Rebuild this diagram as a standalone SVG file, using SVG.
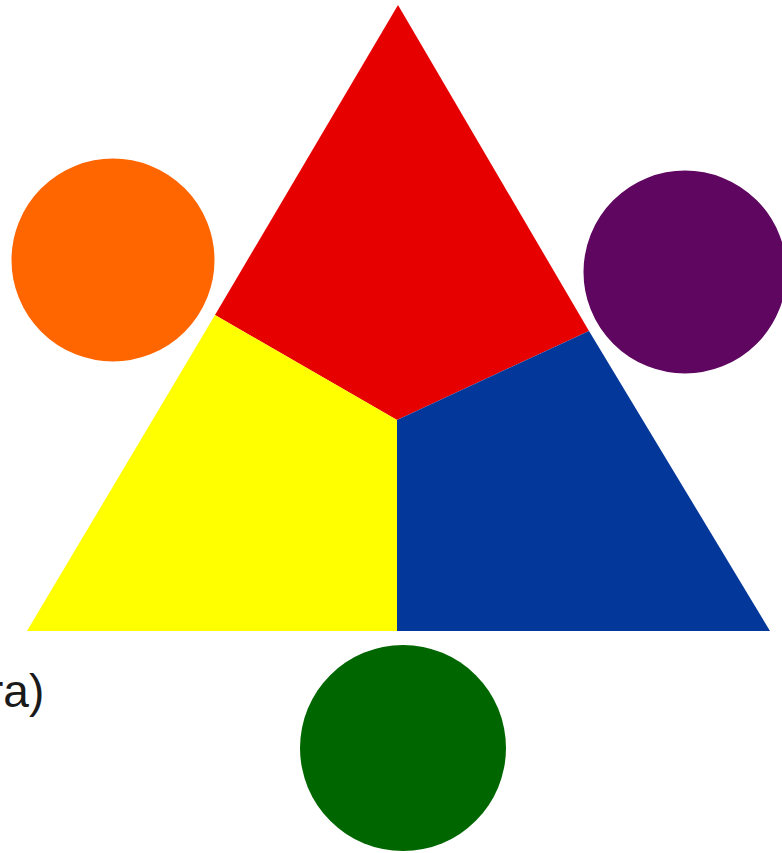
<svg xmlns="http://www.w3.org/2000/svg" width="782" height="853" viewBox="0 0 782 853">
<style>
.lbl{font-family:"Liberation Sans",Arial,sans-serif;font-size:46px;fill:#1a1a1a}
</style>
<rect width="782" height="853" fill="#ffffff"/>
<g id="triangle">
<polygon id="red" points="398,5 589,331 397,420 215,315" fill="#e60000"/>
<polygon id="yellow" points="215,315 397,420 397,631 27,631" fill="#ffff00"/>
<polygon id="blue" points="397,420 589,331 770,631 397,631" fill="#04379a"/>
</g>
<g id="orange"><circle cx="113" cy="260" r="103" fill="#ff6600" stroke="#ffffff" stroke-width="3"/></g>
<g id="purple"><circle cx="685" cy="272" r="103" fill="#5e0660" stroke="#ffffff" stroke-width="3"/></g>
<g id="green"><circle cx="403" cy="748" r="103" fill="#006600"/></g>
<text class="lbl" x="-12" y="707">ra)</text>
</svg>
